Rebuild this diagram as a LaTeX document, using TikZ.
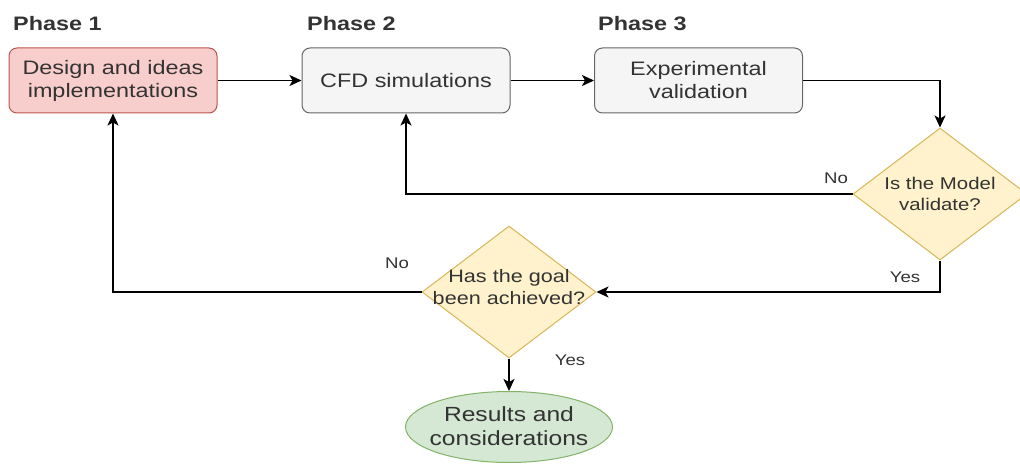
\documentclass[tikz,border=0pt]{standalone}
\usepackage{fontspec}
\setmainfont{Liberation Sans}[FakeStretch=1.2]
\usetikzlibrary{shapes.geometric,arrows.meta}
\definecolor{redfill}{HTML}{F8CECC}
\definecolor{reddraw}{HTML}{B85450}
\definecolor{greyfill}{HTML}{F5F5F5}
\definecolor{greydraw}{HTML}{666666}
\definecolor{yelfill}{HTML}{FFF2CC}
\definecolor{yeldraw}{HTML}{D6B656}
\definecolor{grnfill}{HTML}{D5E8D4}
\definecolor{grndraw}{HTML}{82B366}
\definecolor{txt}{HTML}{333333}
\tikzset{
  boxbase/.style={rectangle, rounded corners=8pt, minimum width=208pt, minimum height=65pt, inner sep=0pt, align=center, text=txt, line width=1pt, font=\fontsize{19.5}{23}\selectfont},
  redbox/.style={boxbase, fill=redfill, draw=reddraw},
  greybox/.style={boxbase, fill=greyfill, draw=greydraw},
  decision/.style={diamond, fill=yelfill, draw=yeldraw, line width=1pt, minimum width=174pt, minimum height=132pt, inner sep=0pt, shape aspect=1.32, align=center, text=txt, font=\fontsize{17}{21}\selectfont},
  dtext/.style={inner sep=0pt, align=center, text=txt, font=\fontsize{18}{22}\selectfont},
  endnode/.style={ellipse, fill=grnfill, draw=grndraw, line width=1pt, minimum width=207pt, minimum height=71pt, inner sep=0pt},
  etext/.style={inner sep=0pt, align=center, text=txt, font=\fontsize{20.5}{23.5}\selectfont},
  phase/.style={anchor=base west, inner sep=0pt, text=txt, font=\fontsize{19.5}{23}\selectfont\bfseries},
  lbl/.style={inner sep=0pt, text=txt, font=\fontsize{15.5}{18}\selectfont},
  conn/.style={line width=1.5pt, -{Stealth[length=12pt,width=11pt,inset=3pt]}}
}
\begin{document}
\begin{tikzpicture}[x=1pt,y=-1pt]
\useasboundingbox (0,0) rectangle (1020,468);
\node[phase] (p1) at (13,31) {Phase 1};
\node[phase] (p2) at (307,31) {Phase 2};
\node[phase] (p3) at (598,31) {Phase 3};
\node[redbox] (b1) at (113,80.5) {Design and ideas\\implementations};
\node[greybox] (b2) at (406,80.5) {CFD simulations};
\node[greybox] (b3) at (698.5,80.5) {Experimental\\validation};
\node[decision] (d1) at (940,194) {Is the Model\\validate?};
\node[decision] (d2) at (509,292) {};
\node[dtext] (d2t) at (509,287) {Has the goal\\been achieved?};
\node[endnode] (e) at (509,427) {};
\node[etext] (et) at (509,426) {Results and\\considerations};
\node[lbl] (no1) at (836,178) {No};
\node[lbl] (yes1) at (905,277) {Yes};
\node[lbl] (no2) at (397,263) {No};
\node[lbl] (yes2) at (570,360) {Yes};
\draw[conn] (b1.east) -- (b2.west);
\draw[conn] (b2.east) -- (b3.west);
\draw[conn] (b3.east) -| (d1.north);
\draw[conn] (d1.west) -| (b2.south);
\draw[conn] (d1.south) |- (d2.east);
\draw[conn] (d2.west) -| (b1.south);
\draw[conn] (d2.south) -- (e.north);
\end{tikzpicture}
\end{document}
